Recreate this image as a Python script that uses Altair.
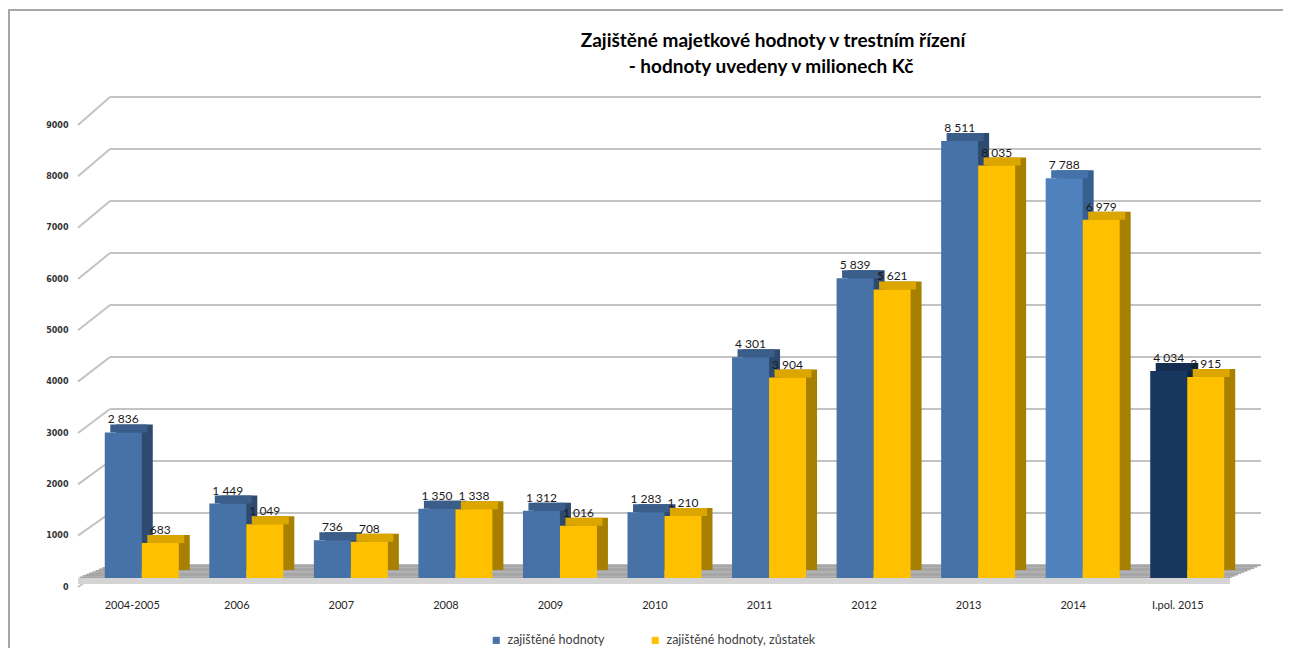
import altair as alt
import pandas as pd

# ---------------- data ----------------
categories = ["2004-2005", "2006", "2007", "2008", "2009", "2010",
              "2011", "2012", "2013", "2014", "I.pol. 2015"]
secured = [2836, 1449, 736, 1350, 1312, 1283, 4301, 5839, 8511, 7788, 4034]
remaining = [683, 1049, 708, 1338, 1016, 1210, 3904, 5621, 8035, 6979, 3915]
series_names = ["zajištěné hodnoty", "zajištěné hodnoty, zůstatek"]
y_ticks = [0, 1000, 2000, 3000, 4000, 5000, 6000, 7000, 8000, 9000]
title_line1 = "Zajištěné majetkové hodnoty v trestním řízení"
title_line2 = "- hodnoty uvedeny v milionech Kč"


def fmt(v):
    return f"{v:,}".replace(",", " ")


rows = []
for c, a, b in zip(categories, secured, remaining):
    rows.append(dict(cat=c, series=series_names[0], value=a, label=fmt(a)))
    rows.append(dict(cat=c, series=series_names[1], value=b, label=fmt(b)))
df = pd.DataFrame(rows)
ticks_df = pd.DataFrame({"v": y_ticks})
one = pd.DataFrame({"k": [0]})

# ---------------- styling ----------------
W, H = 1150, 462
FONT = "Lato"
BAR_W = 37
DX, DY = 11, 8
GRID = "#c3c3c3"

front_scale = alt.Scale(domain=[0, 9000], nice=False, zero=True)
x_scale = alt.Scale(paddingInner=0, paddingOuter=0)
x_axis = alt.Axis(title=None, labelAngle=0, domain=False, ticks=False,
                  labelFont=FONT, labelFontSize=11, labelColor="#262626",
                  labelPadding=21)
y_axis = alt.Axis(title=None, values=y_ticks, format="d", domain=False,
                  ticks=False, grid=False, labelFont="DejaVu Sans",
                  labelFontSize=8, labelFontWeight="bold", labelColor="#333333",
                  labelPadding=12, labelOffset=9)

X = alt.X("cat:N", sort=categories, scale=x_scale, axis=x_axis)


def Yf(field):
    return alt.Y(field, scale=front_scale, axis=y_axis)


front_color = alt.Color(
    "tone:N",
    scale=alt.Scale(domain=series_names + ["light", "dark"],
                    range=["#4672a8", "#ffc000", "#4f81bd", "#17375e"]),
    legend=alt.Legend(values=series_names, title=None, orient="none",
                      legendX=410, legendY=518, direction="horizontal",
                      symbolType="square", symbolSize=50, symbolStrokeWidth=0,
                      labelFont=FONT, labelFontSize=12.5, labelColor="#404040",
                      columnPadding=44, labelOffset=5),
)

S0 = series_names[0]
tone_expr = ("datum.series === '%s' ? (datum.cat === '2014' ? 'light' : "
             "(datum.cat === 'I.pol. 2015' ? 'dark' : datum.series)) : datum.series") % S0
side_expr = ("datum.series !== '%s' ? '#a88000' : (datum.cat === '2014' ? '#38608f' : "
             "(datum.cat === 'I.pol. 2015' ? '#0e2440' : '#2e4a6f'))") % S0
top_expr = ("datum.series !== '%s' ? '#dca600' : (datum.cat === '2014' ? '#4672aa' : "
            "(datum.cat === 'I.pol. 2015' ? '#132e50' : '#3a5d8a'))") % S0

base = (alt.Chart(df)
        .transform_calculate(tone=tone_expr, side=side_expr, topc=top_expr))

# ---------------- back wall gridlines (own perspective scale) ----------------
back_grid = alt.Chart(ticks_df).mark_rule(color=GRID, strokeWidth=2).encode(
    y=alt.Y("v:Q", scale=alt.Scale(domain=[-250, 8635], nice=False, zero=False), axis=None),
    x=alt.value(30), x2=alt.value(1181),
)

# ---------------- front layers ----------------
layers = []

# left wall diagonals
diag = (alt.Chart(ticks_df)
        .transform_calculate(v2="253.3 + 1.013 * datum.v")
        .mark_rule(color=GRID, strokeWidth=2, yOffset=9)
        .encode(y=Yf("v:Q"), y2="v2:Q",
                x=alt.value(-2), x2=alt.value(30)))
layers.append(diag)

# floor (finely stepped slab top + front edge)
N_STRIPS = 10
STRIP_H = 13 / N_STRIPS
for k in range(N_STRIPS):
    shift = 32 * (k + 0.5) / N_STRIPS
    layers.append(
        alt.Chart(one).transform_calculate(y0="0")
        .mark_rect(color="#a6a6a6", yOffset=-STRIP_H * k, y2Offset=-STRIP_H * (k + 1) - 0.3)
        .encode(y=Yf("y0:Q"), y2="y0:Q",
                x=alt.value(-2 + shift), x2=alt.value(1150 + shift))
    )
layers.append(
    alt.Chart(one).transform_calculate(y0="0")
    .mark_rect(color="#d4d4d4", yOffset=6, y2Offset=0)
    .encode(y=Yf("y0:Q"), y2="y0:Q",
            x=alt.value(-2), x2=alt.value(1150))
)

# bars with pseudo-3D depth
for s_name, off in [(series_names[0], -9), (series_names[1], 28)]:
    b = base.transform_filter(alt.datum.series == s_name)
    side = b.mark_bar(width=BAR_W, xOffset=off + DX, yOffset=-DY, y2Offset=-DY).encode(
        x=X, y=Yf("value:Q"),
        color=alt.Color("side:N", scale=None))
    top = b.mark_bar(width=BAR_W, xOffset=off + DX / 2, yOffset=-DY).encode(
        x=X, y=Yf("value:Q"), y2="value:Q",
        color=alt.Color("topc:N", scale=None))
    front = b.mark_bar(width=BAR_W, xOffset=off).encode(
        x=X, y=Yf("value:Q"),
        color=front_color)
    layers += [side, top, front]

for s_name, off in [(series_names[0], -9), (series_names[1], 28)]:
    b = base.transform_filter(alt.datum.series == s_name)
    layers.append(
        b.mark_text(xOffset=off, dy=-9, baseline="alphabetic", font=FONT,
                    fontSize=12, color="#1a1a1a")
        .encode(x=X, y=Yf("value:Q"), text="label:N"))

# title (as text marks)
layers.append(alt.Chart(one).mark_text(text=title_line1, font=FONT, fontSize=19,
                                        fontWeight="bold", color="#000000",
                                        baseline="alphabetic")
              .encode(x=alt.value(693), y=alt.value(-69)))
layers.append(alt.Chart(one).mark_text(text=title_line2, font=FONT, fontSize=19,
                                        fontWeight="bold", color="#000000",
                                        baseline="alphabetic")
              .encode(x=alt.value(691), y=alt.value(-43)))

# outer frame of the chart object
layers.append(alt.Chart(one).mark_rule(color="#a6a6a6", strokeWidth=2)
              .encode(x=alt.value(-71), y=alt.value(-106), y2=alt.value(540)))
layers.append(alt.Chart(one).mark_rule(color="#a6a6a6", strokeWidth=2)
              .encode(x=alt.value(-72), x2=alt.value(1205), y=alt.value(-106)))

front_group = alt.layer(*layers)

chart = (alt.layer(back_grid, front_group)
         .resolve_scale(y="independent")
         .properties(width=W, height=H,
                     autosize=alt.AutoSizeParams(type="none"),
                     padding={"left": 72, "top": 108, "right": 53, "bottom": 70},
                     background="white")
         .configure_view(stroke=None))

chart.save("out.html", embed_options={"renderer": "svg", "actions": False})
